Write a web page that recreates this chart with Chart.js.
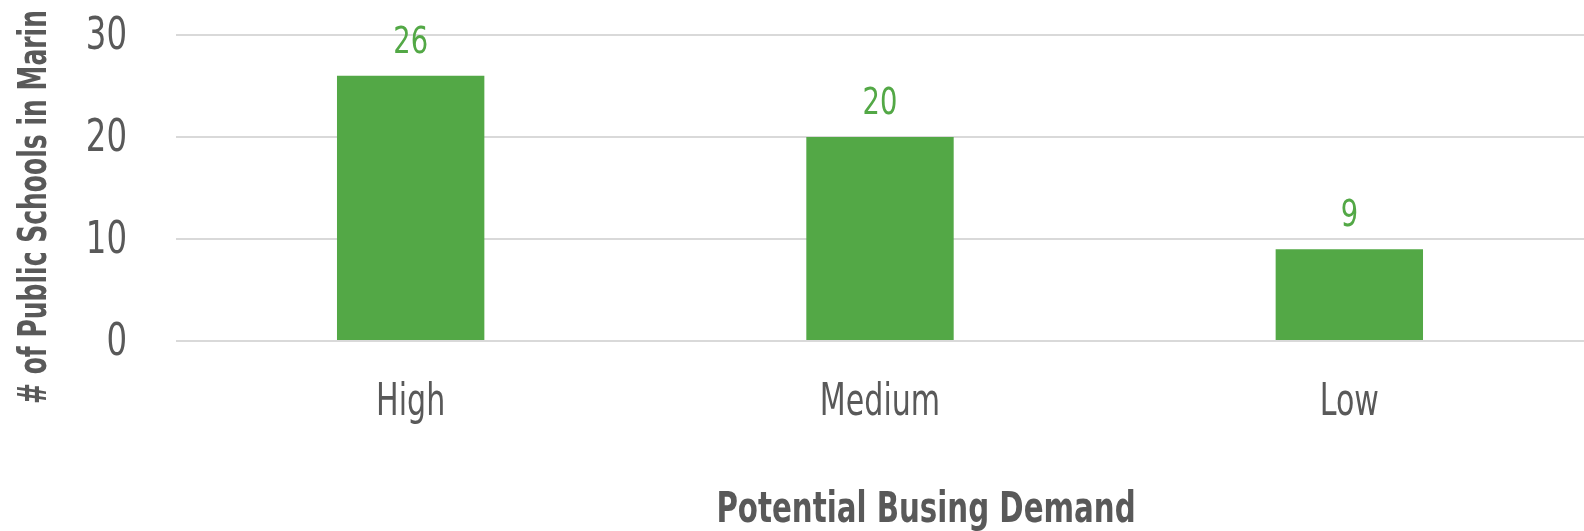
<!DOCTYPE html>
<html>
<head>
<meta charset="utf-8">
<script src="https://cdn.jsdelivr.net/npm/chart.js@4"></script>
<style>
  html, body { margin: 0; padding: 0; background: #fff; }
  #wrap { width: 1584px; height: 531px; }
</style>
</head>
<body>
<div id="wrap"><canvas id="chart"></canvas></div>
<script>
const categories = ['High', 'Medium', 'Low'];
const schoolCounts = [26, 20, 9];
const yTicks = [0, 10, 20, 30];
const xTitle = 'Potential Busing Demand';
const yTitle = '# of Public Schools in Marin';

const FONT = "'DejaVu Sans Condensed', 'DejaVu Sans', sans-serif";
const GREEN = '#53a846';
const GREY = '#595959';

// the original uses a condensed face, so squeeze text horizontally
function drawText(ctx, text, x, y, font, color, sx, align) {
    ctx.save();
    ctx.translate(x, y);
    ctx.scale(sx, 1);
    ctx.font = font;
    ctx.fillStyle = color;
    ctx.textAlign = align;
    ctx.textBaseline = 'alphabetic';
    ctx.fillText(text, 0, 0);
    ctx.restore();
}

const labelsPlugin = {
    id: 'labelsPlugin',
    afterDraw(chart) {
        const ctx = chart.ctx;
        const xs = chart.scales.x;
        const ys = chart.scales.y;
        const area = chart.chartArea;

        // y tick labels
        yTicks.forEach(v => {
            drawText(ctx, String(v), 127, ys.getPixelForValue(v) + 14,
                '45px ' + FONT, GREY, 0.8, 'right');
        });

        // category labels
        categories.forEach((c, i) => {
            drawText(ctx, c, xs.getPixelForValue(i), area.bottom + 74,
                '44px ' + FONT, GREY, 0.76, 'center');
        });

        // value labels above bars
        const meta = chart.getDatasetMeta(0);
        meta.data.forEach((bar, i) => {
            drawText(ctx, String(schoolCounts[i]), bar.x, bar.y - 23,
                '38px ' + FONT, GREEN, 0.8, 'center');
        });

        // axis titles
        drawText(ctx, xTitle, 926, 522, 'bold 42px ' + FONT, GREY, 0.775, 'center');

        const yFont = 'bold 39px ' + FONT;
        ctx.save();
        ctx.font = yFont;
        const w = ctx.measureText(yTitle).width;
        ctx.translate(46, 207);
        ctx.rotate(-Math.PI / 2);
        drawText(ctx, yTitle, 0, 0, yFont, GREY, 394 / w, 'center');
        ctx.restore();
    }
};

new Chart(document.getElementById('chart'), {
    type: 'bar',
    data: {
        labels: categories,
        datasets: [{
            data: schoolCounts,
            backgroundColor: GREEN,
            borderWidth: 0,
            barPercentage: 0.628,
            categoryPercentage: 0.5
        }]
    },
    options: {
        responsive: true,
        maintainAspectRatio: false,
        animation: false,
        layout: { padding: { top: 35, right: 0, left: 176, bottom: 190 } },
        plugins: {
            legend: { display: false },
            tooltip: { enabled: false }
        },
        scales: {
            x: {
                grid: { display: false, drawTicks: false },
                border: { display: false },
                ticks: { display: false }
            },
            y: {
                min: 0,
                max: 30,
                afterBuildTicks(scale) {
                    scale.ticks = yTicks.map(v => ({ value: v }));
                },
                grid: { color: '#d9d9d9', lineWidth: 2, drawTicks: false },
                border: { display: false },
                ticks: { display: false }
            }
        }
    },
    plugins: [labelsPlugin]
});
</script>
</body>
</html>
